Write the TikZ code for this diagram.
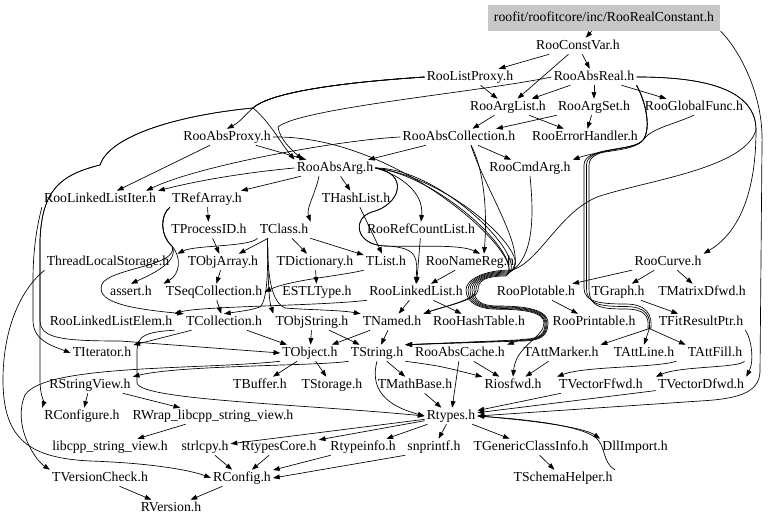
\documentclass[tikz,border=0pt]{standalone}
\usepackage{fontspec}
\setmainfont{Liberation Serif}
\usetikzlibrary{arrows.meta,calc}

\begin{document}
\begin{tikzpicture}[x=0.75pt,y=-0.75pt,
  file/.style={font=\fontsize{10.3}{12}\selectfont,inner sep=1.5pt,text height=7pt,text depth=2pt},
  rootfile/.style={file,fill=black!22,minimum width=174.5pt,minimum height=19.5pt},
  dep/.style={-{Triangle[length=5pt,width=3.6pt]},line width=0.5pt}]
  \useasboundingbox (0,0) rectangle (768,524);

  \node[rootfile] (rconst) at (604,18) {roofit/roofitcore/inc/RooRealConstant.h};
  \node[file] (cvar) at (578,46) {RooConstVar.h};
  \node[file] (lproxy) at (470,77) {RooListProxy.h};
  \node[file] (absreal) at (594,77) {RooAbsReal.h};
  \node[file] (arglist) at (508,107) {RooArgList.h};
  \node[file] (argset) at (594,107) {RooArgSet.h};
  \node[file] (gfunc) at (694,107) {RooGlobalFunc.h};
  \node[file] (aproxy) at (227,137) {RooAbsProxy.h};
  \node[file] (acoll) at (459,137) {RooAbsCollection.h};
  \node[file] (errh) at (585,137) {RooErrorHandler.h};
  \node[file] (absarg) at (335,168) {RooAbsArg.h};
  \node[file] (cmdarg) at (530,168) {RooCmdArg.h};
  \node[file] (lliter) at (100,199) {RooLinkedListIter.h};
  \node[file] (refarr) at (207,199) {TRefArray.h};
  \node[file] (hashl) at (356,199) {THashList.h};
  \node[file] (procid) at (209,230) {TProcessID.h};
  \node[file] (tclass) at (284,230) {TClass.h};
  \node[file] (refcl) at (421,230) {RooRefCountList.h};
  \node[file] (tls) at (108,262) {ThreadLocalStorage.h};
  \node[file] (objarr) at (223,262) {TObjArray.h};
  \node[file] (tdict) at (315,262) {TDictionary.h};
  \node[file] (tlist) at (386,262) {TList.h};
  \node[file] (namereg) at (470,262) {RooNameReg.h};
  \node[file] (roocurve) at (668,262) {RooCurve.h};
  \node[file] (assert) at (131,292) {assert.h};
  \node[file] (seqc) at (214,292) {TSeqCollection.h};
  \node[file] (estl) at (317,292) {ESTLType.h};
  \node[file] (llist) at (416,292) {RooLinkedList.h};
  \node[file] (plotable) at (536,292) {RooPlotable.h};
  \node[file] (graph) at (618,292) {TGraph.h};
  \node[file] (matd) at (702,292) {TMatrixDfwd.h};
  \node[file] (llelem) at (111,322) {RooLinkedListElem.h};
  \node[file] (coll) at (224,322) {TCollection.h};
  \node[file] (objstr) at (312,322) {TObjString.h};
  \node[file] (named) at (392,322) {TNamed.h};
  \node[file] (htable) at (479,322) {RooHashTable.h};
  \node[file] (printable) at (594,322) {RooPrintable.h};
  \node[file] (fitres) at (701,322) {TFitResultPtr.h};
  \node[file] (iter) at (102,353) {TIterator.h};
  \node[file] (tobject) at (310,353) {TObject.h};
  \node[file] (tstring) at (377,353) {TString.h};
  \node[file] (acache) at (460,353) {RooAbsCache.h};
  \node[file] (attmark) at (561,353) {TAttMarker.h};
  \node[file] (attline) at (644,353) {TAttLine.h};
  \node[file] (attfill) at (715,353) {TAttFill.h};
  \node[file] (sview) at (90,385) {RStringView.h};
  \node[file] (buffer) at (260,385) {TBuffer.h};
  \node[file] (storage) at (332,385) {TStorage.h};
  \node[file] (mathb) at (415,385) {TMathBase.h};
  \node[file] (riosfwd) at (513,385) {Riosfwd.h};
  \node[file] (vecf) at (601,385) {TVectorFfwd.h};
  \node[file] (vecd) at (701,385) {TVectorDfwd.h};
  \node[file] (rconfigure) at (82,416) {RConfigure.h};
  \node[file] (wrap) at (213,416) {RWrap\_libcpp\_string\_view.h};
  \node[file] (rtypes) at (451,416) {Rtypes.h};
  \node[file] (libcpp) at (110,447) {libcpp\_string\_view.h};
  \node[file] (strlcpy) at (205,447) {strlcpy.h};
  \node[file] (rtcore) at (279,447) {RtypesCore.h};
  \node[file] (rtinfo) at (363,447) {Rtypeinfo.h};
  \node[file] (snprintf) at (434,447) {snprintf.h};
  \node[file] (gci) at (531,447) {TGenericClassInfo.h};
  \node[file] (dll) at (635,447) {DllImport.h};
  \node[file] (vcheck) at (100,478) {TVersionCheck.h};
  \node[file] (rconfig) at (242,478) {RConfig.h};
  \node[file] (schema) at (563,478) {TSchemaHelper.h};
  \node[file] (rversion) at (171,508) {RVersion.h};

  \coordinate (acollout) at ($(acoll.south)+(12,0)$);
  \coordinate (absargout) at ($(absarg.south)+(-16,0)$);
  \coordinate (tclassout) at ($(tclass.south west)+(10,0)$);

  \foreach \a/\b in {rconst/cvar,cvar/lproxy,cvar/absreal,cvar/arglist,lproxy/arglist,
    absreal/arglist,absreal/argset,absreal/gfunc,arglist/acoll,arglist/errh,argset/acoll,
    argset/errh,aproxy/absarg,acoll/absarg,acoll/cmdarg,absarg/refarr,absarg/hashl,
    aproxy/lliter,refarr/procid,hashl/tlist,tclass/tlist,tclass/tdict,procid/objarr,
    tclass/objarr,objarr/seqc,tdict/estl,refcl/llist,namereg/llist,llist/named,llist/htable,
    roocurve/plotable,roocurve/graph,roocurve/matd,plotable/printable,graph/fitres,seqc/coll,
    coll/iter,coll/tobject,objstr/tobject,objstr/tstring,named/tobject,named/tstring,
    tobject/buffer,tobject/storage,tstring/mathb,acache/riosfwd,acache/rtypes,mathb/rtypes,
    vecf/rtypes,vecd/rtypes,attmark/riosfwd,sview/rconfigure,sview/wrap,wrap/libcpp,
    rtypes/strlcpy,rtypes/rtcore,rtypes/rtinfo,rtypes/snprintf,rtypes/gci,gci/schema,
    strlcpy/rconfig,rtcore/rconfig,rtinfo/rconfig,vcheck/rversion,rconfig/rversion}
    \draw[dep] (\a) -- (\b);

  \draw[dep] (snprintf.south west) -- (rconfig.east);
  \draw[dep] (tlist.south west) .. controls (340,276) and (290,280) .. (seqc.east);
  \draw[dep] (gfunc.south) .. controls (672,125) and (652,128) .. (643,140) .. controls (634,152) and (600,150) .. (cmdarg.north east);
  \draw[dep] (absreal.east) .. controls (690,77) and (756,84) .. (756,130) .. controls (756,200) and (735,235) .. (roocurve.north east);
  \draw[dep] (rconst.south east) .. controls (735,45) and (764,90) .. (762,145) -- (760,372) .. controls (759,394) and (735,399) .. (700,401) -- (rtypes.east);
  \draw[dep] (absreal.west) .. controls (480,92) and (300,108) .. (278,127) .. controls (280,140) and (292,150) .. ($(absarg.north west)+(8,0)$);
  \draw[dep] (lproxy.west) .. controls (380,80) and (275,88) .. (253,108) .. controls (245,115) and (240,122) .. (aproxy.north);
  \draw[dep] (lproxy.west) .. controls (380,80) and (275,88) .. (253,108) .. controls (270,122) and (280,142) .. (absarg.north west);
  \draw[dep] (lproxy.west) .. controls (380,80) and (275,88) .. (253,108) .. controls (180,115) and (110,135) .. (100,165) .. controls (60,175) and (42,190) .. (40,240) -- (40,380) .. controls (40,395) and (44,402) .. (rconfigure.north west);
  \draw[dep] (lproxy.west) .. controls (380,80) and (275,88) .. (253,108) .. controls (180,115) and (110,135) .. (100,165) .. controls (60,175) and (42,190) .. (40,240) -- (40,320) .. controls (40,338) and (60,341) .. (120,341) -- (tobject.west);
  \draw[dep] (lliter.south west) .. controls (40,215) and (33,240) .. (33,280) -- (33,320) .. controls (33,340) and (50,345) .. (iter.west);
  \draw[dep] (tls.south west) .. controls (20,290) and (3,330) .. (3,380) .. controls (3,440) and (30,458) .. (90,461) .. controls (150,463) and (190,470) .. (rconfig.west);
  \draw[dep] (tobject.south west) .. controls (200,370) and (45,364) .. (25,395) .. controls (12,425) and (35,460) .. (vcheck.north west);
  \draw[dep] (tstring.south west) .. controls (320,366) and (180,365) .. (sview.north east);
  \draw[dep] (llelem.south east) .. controls (137,332) and (137,340) .. (137,355) -- (137,383) .. controls (140,400) and (300,404) .. (rtypes.west);
  \draw[dep] (tstring.south) .. controls (368,395) and (395,408) .. (rtypes.west);
  \draw[dep] (tstring.south east) .. controls (440,366) .. (riosfwd.north west);
  \draw[dep] (schema.north east) .. controls (602,462) and (606,445) .. (595,437) .. controls (575,424) and (520,419) .. (rtypes.east);
  \draw[dep] (rtypes.east) .. controls (540,421) and (585,428) .. (dll.north west);
  \draw[dep] (absarg.west) .. controls (250,172) and (200,180) .. (lliter.north east);
  \draw[dep] (acoll.west) .. controls (340,140) and (200,165) .. ($(lliter.north east)+(-12,0)$);
  \draw[dep] (absargout) .. controls (315,195) and (306,208) .. (tclass.north east);
  \draw[dep] (absarg.east) .. controls (400,175) and (424,192) .. (refcl.north);
  \draw[dep] (absarg.east) .. controls (410,174) and (400,205) .. (372,212) .. controls (352,218) and (355,245) .. (385,246) .. controls (420,247) and (460,244) .. ($(namereg.north)+(10,0)$);
  \draw[dep] (absarg.east) .. controls (410,174) and (400,205) .. (372,212) .. controls (352,218) and (355,245) .. (385,246) .. controls (420,247) and (417,260) .. (llist.north);
  \draw[dep] (acollout) .. controls (482,165) and (488,205) .. ($(namereg.north)+(14,0)$);
  \draw[dep] (tclass.south west) .. controls (250,247) and (195,245) .. ($(tls.north east)+(6,0)$);
  \draw[dep] (refarr.south west) .. controls (160,215) and (160,236) .. (172,246) .. controls (180,262) and (150,275) .. (assert.north);
  \draw[dep] (refarr.south west) .. controls (160,215) and (160,236) .. (172,246) .. controls (180,266) and (110,268) .. (102,284) .. controls (96,300) and (120,308) .. (coll.north west);
  \draw[dep] (refarr.south west) .. controls (160,215) and (160,236) .. (172,246) .. controls (182,258) and (180,274) .. (seqc.north west);
  \draw[dep] (tclassout) .. controls (268,265) and (268,298) .. (objstr.north west);
  \draw[dep] (tclassout) .. controls (268,265) and (268,300) .. (260,307) .. controls (250,310) .. (coll.north);
  \draw[dep] (tclassout) .. controls (268,265) and (268,300) .. (285,308) .. controls (310,310) and (340,310) .. (named.north west);
  \draw[dep] (llist.south west) .. controls (320,306) and (200,306) .. (llelem.north east);

  \foreach \src/\cx/\cy/\off/\dst in {absarg.east/440/168/0/tstring.north east,
    acollout/485/190/2/tstring.north east,cmdarg.south/534/215/4/tstring.north east,
    absarg.east/452/178/6/acache.north east}
    \draw[dep] (\src) .. controls (\cx,\cy) and ({530+\off},258) .. ({508+0.5*\off},{274-0.5*\off})
      .. controls ({485-0.3*\off},{274-0.5*\off}) and ({474-\off},280) .. ({474-\off},290)
      .. controls ({474-\off},{301+0.4*\off}) and (482,{306+0.4*\off}) .. (497,{306+0.4*\off})
      .. controls (520,{306+0.4*\off}) and ({548-0.5*\off},{308+0.4*\off}) .. ({548-0.5*\off},323)
      .. controls ({548-0.5*\off},{336-0.3*\off}) and (540,{341-0.3*\off}) .. (522,{341-0.3*\off})
      -- (\dst);
  \foreach \src/\cx/\cy/\off in {aproxy.east/400/135/-2,absarg.east/440/176/-4}
    \draw[dep] (\src) .. controls (\cx,\cy) and ({530+\off},258) .. ({508+0.5*\off},{274-0.5*\off})
      .. controls ({485-0.3*\off},{274-0.5*\off}) and ({474-\off},280) .. ({474-\off},290)
      .. controls ({474-\off},300) and (445,306) .. (named.north east);
  \draw[dep] (absreal.east) .. controls (690,77) and (756,84) .. (756,130) .. controls (745,168) and (650,180) .. (600,196) .. controls (560,210) and (540,262) .. (512,270) .. controls (482.6,270) and (466,280) .. (466,290) .. controls (466,304.2) and (482,309.2) .. (497,309.2) .. controls (520,309.2) and (544,311.2) .. (544,323) .. controls (544,338) and (516,345) .. (riosfwd.north);

  \foreach \off/\dst in {0/attmark.north east,2.5/attline.north,5/attfill.north west}
    \draw[dep] (absreal.south east) .. controls (645,100) and (652,128) .. (643,140) .. controls (634,152) and ({584+\off},146) .. ({584+\off},165) -- ({584+\off},288)
      .. controls ({584+\off},{302+\off}) and (600,{304+\off}) .. (625,{304+\off})
      .. controls ({648-0.6*\off},{304+\off}) and ({652-0.6*\off},316) .. ({651-0.6*\off},328) -- (\dst);
  \draw[dep] (attline.south east) .. controls (655,368) and (585,366) .. (vecf.north west);
  \draw[dep] (attfill.south east) .. controls (740,368) and (680,366) .. (vecd.north west);
  \draw[dep] (fitres.south east) .. controls (752,340) and (754,362) .. (vecd.north east);
\end{tikzpicture}
\end{document}
